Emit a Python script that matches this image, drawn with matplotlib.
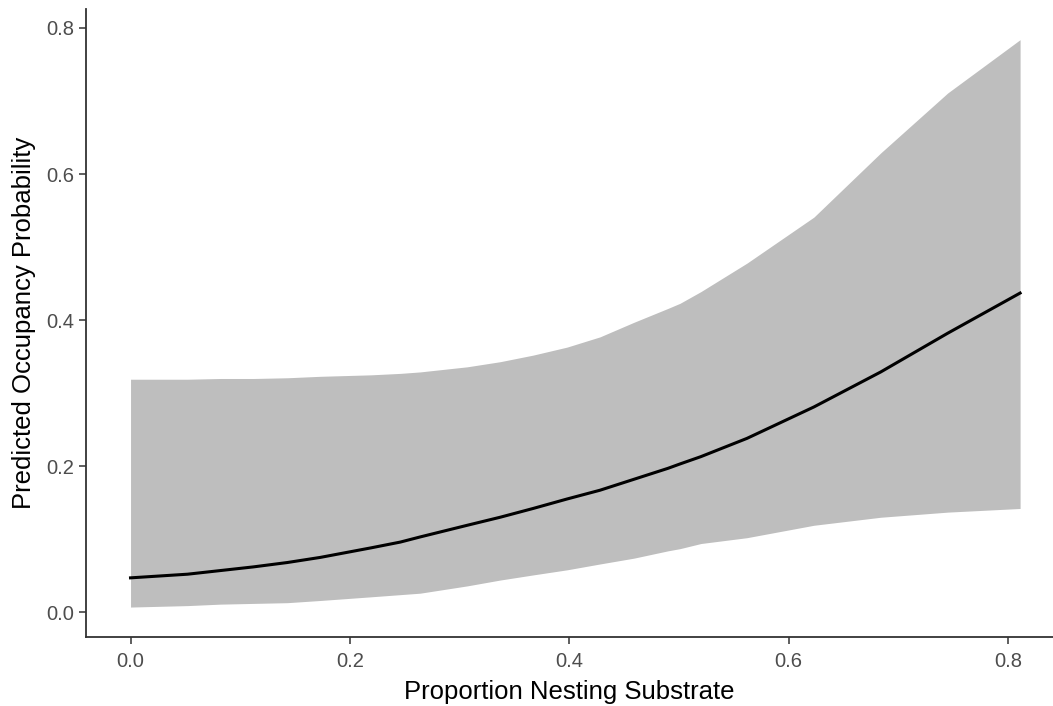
import numpy as np
import matplotlib
matplotlib.use('Agg')
import matplotlib.pyplot as plt

plt.rcParams['font.family'] = ['Liberation Sans', 'DejaVu Sans']

# values
prop_substrate = [0.0, 0.052, 0.082, 0.112, 0.143, 0.173, 0.219, 0.246, 0.264, 0.307,
                  0.337, 0.367, 0.398, 0.428, 0.459, 0.49, 0.501, 0.52, 0.562, 0.623,
                  0.684, 0.745, 0.811]
occ_pred = [0.047, 0.052, 0.057, 0.062, 0.068, 0.075, 0.088, 0.096, 0.103, 0.119,
            0.130, 0.142, 0.155, 0.167, 0.182, 0.197, 0.203, 0.213, 0.238, 0.281,
            0.329, 0.382, 0.437]
occ_upper = [0.319, 0.319, 0.320, 0.320, 0.321, 0.323, 0.325, 0.327, 0.329, 0.336,
             0.343, 0.352, 0.363, 0.377, 0.397, 0.416, 0.423, 0.439, 0.478, 0.541,
             0.629, 0.711, 0.784]
occ_lower = [0.007, 0.009, 0.011, 0.012, 0.013, 0.016, 0.021, 0.024, 0.026, 0.036,
             0.044, 0.051, 0.058, 0.066, 0.074, 0.084, 0.087, 0.094, 0.102, 0.119,
             0.130, 0.137, 0.142]

x = np.array(prop_substrate)

fig = plt.figure(figsize=(10.53, 7.06), dpi=100)
ax = fig.add_axes([86/1053, 69/706, 1 - 86/1053, 628/706])

ax.fill_between(x, occ_lower, occ_upper, color='#bebebe', linewidth=0)
ax.plot(x, occ_pred, color='black', linewidth=2.2, solid_joinstyle='round')

ax.set_xlim(-0.0406, 0.841)
ax.set_ylim(-0.034, 0.826)
ticks = [0.0, 0.2, 0.4, 0.6, 0.8]
ax.set_xticks(ticks)
ax.set_yticks(ticks)
ax.set_xticklabels(['0.0', '0.2', '0.4', '0.6', '0.8'])
ax.set_yticklabels(['0.0', '0.2', '0.4', '0.6', '0.8'])

for s in ['top', 'right']:
    ax.spines[s].set_visible(False)
for s in ['left', 'bottom']:
    ax.spines[s].set_color('#333333')
    ax.spines[s].set_linewidth(1.3)

ax.tick_params(colors='#333333', labelcolor='#4d4d4d', labelsize=14.5,
               length=5, width=1.1, pad=3.5)
ax.tick_params(axis='x', pad=6)
ax.set_xlabel('Proportion Nesting Substrate', fontsize=18.5, color='black', labelpad=6)
ax.set_ylabel('Predicted Occupancy Probability', fontsize=18.5, color='black', labelpad=7)

fig.savefig('out.png', dpi=100)
